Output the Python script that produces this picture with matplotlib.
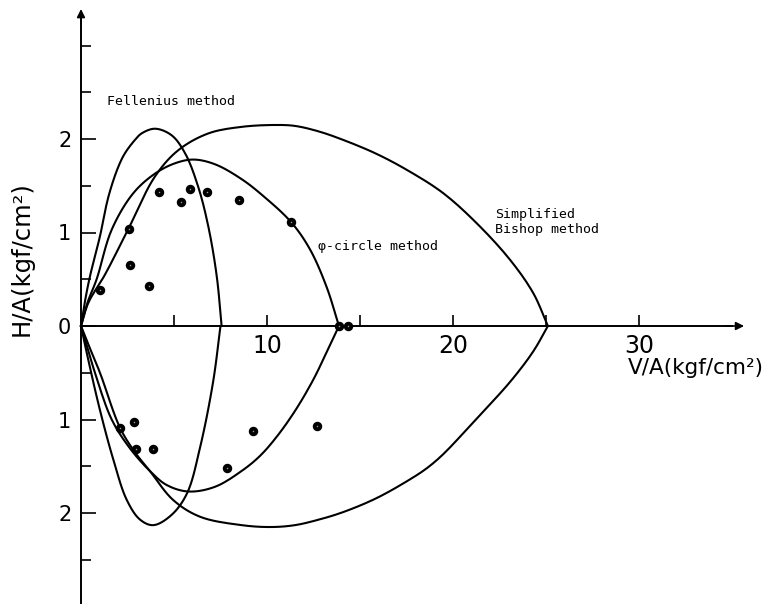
import matplotlib
matplotlib.use("Agg")
import matplotlib.pyplot as plt
import numpy as np

# curves, each branch runs from the origin to the V/A axis
fell_up_x = [0, 0.2, 0.48, 1.02, 1.47, 2.0, 2.37, 2.9, 3.26, 3.98, 4.87, 5.59, 6.3, 6.85, 7.3, 7.56]
fell_up_y = [0, 0.25, 0.53, 0.96, 1.38, 1.70, 1.85, 1.99, 2.06, 2.11, 2.04, 1.85, 1.49, 1.06, 0.53, 0]
fell_lo_x = [0, 0.39, 1.02, 1.74, 2.46, 3.17, 3.89, 4.87, 5.7, 6.4, 7.1, 7.5]
fell_lo_y = [0, -0.36, -0.9, -1.43, -1.86, -2.07, -2.13, -2.02, -1.79, -1.3, -0.6, 0]

phi_up_x = [0, 0.35, 0.84, 1.65, 2.81, 3.98, 5.05, 6.04, 7.2, 8.64, 9.8, 11.3, 12.31, 13.2, 13.87]
phi_up_y = [0, 0.25, 0.5, 1.03, 1.42, 1.63, 1.74, 1.78, 1.73, 1.57, 1.39, 1.11, 0.82, 0.42, 0]
phi_lo_x = [0, 0.3, 0.75, 1.65, 2.6, 3.7, 4.6, 5.77, 7.2, 8.64, 9.62, 10.5, 11.5, 12.5, 13.3, 13.87]
phi_lo_y = [0, -0.2, -0.5, -1.0, -1.3, -1.55, -1.7, -1.77, -1.72, -1.55, -1.39, -1.19, -0.91,
            -0.57, -0.24, 0]

bish_up_x = [0, 0.4, 1.29, 2.55, 3.98, 5.23, 6.85, 8.64, 10.43, 11.5, 12.8, 14.1, 15.9, 17.69,
             19.48, 21.27, 23.06, 24.32, 25.1]
bish_up_y = [0, 0.25, 0.55, 1.04, 1.6, 1.88, 2.06, 2.13, 2.15, 2.14, 2.08, 1.99, 1.84, 1.65,
             1.42, 1.1, 0.71, 0.35, 0]
bish_lo_x = [0, 0.4, 1.02, 2.1, 2.9, 3.7, 4.95, 6.4, 8.64, 10.2, 11.5, 12.8, 14.1, 15.9, 17.69,
             18.6, 19.48, 21.27, 23.06, 24.32, 25.1]
bish_lo_y = [0, -0.2, -0.5, -1.09, -1.35, -1.55, -1.86, -2.04, -2.13, -2.15, -2.13, -2.07, -1.99,
             -1.84, -1.64, -1.52, -1.37, -0.99, -0.6, -0.27, 0]

# measured points
pts_x = [1.02, 2.58, 2.63, 3.66, 4.19, 5.38, 5.86, 6.76, 8.49, 11.3, 13.87, 14.37,
         2.1, 2.85, 2.96, 3.89, 7.83, 9.27, 12.71]
pts_y = [0.39, 1.04, 0.65, 0.43, 1.43, 1.33, 1.47, 1.43, 1.35, 1.11, 0, 0,
         -1.09, -1.03, -1.32, -1.32, -1.52, -1.12, -1.07]

ytick_pos = [-2, -1, 0, 1, 2]
ytick_lab = ["2", "1", "0", "1", "2"]


def smooth(xs, ys, n=10):
    # centripetal catmull-rom through the read points (pixel-like scaling)
    P = np.column_stack([np.array(xs) * 18.6, np.array(ys) * 93.5])
    P = np.vstack([2 * P[0] - P[1], P, 2 * P[-1] - P[-2]])
    out = [P[1]]
    for i in range(1, len(P) - 2):
        p0, p1, p2, p3 = P[i - 1], P[i], P[i + 1], P[i + 2]
        t0 = 0.0
        t1 = t0 + np.linalg.norm(p1 - p0) ** 0.5
        t2 = t1 + np.linalg.norm(p2 - p1) ** 0.5
        t3 = t2 + np.linalg.norm(p3 - p2) ** 0.5
        t = np.linspace(t1, t2, n)[1:, None]
        a1 = (t1 - t) / (t1 - t0) * p0 + (t - t0) / (t1 - t0) * p1
        a2 = (t2 - t) / (t2 - t1) * p1 + (t - t1) / (t2 - t1) * p2
        a3 = (t3 - t) / (t3 - t2) * p2 + (t - t2) / (t3 - t2) * p3
        b1 = (t2 - t) / (t2 - t0) * a1 + (t - t0) / (t2 - t0) * a2
        b2 = (t3 - t) / (t3 - t1) * a2 + (t - t1) / (t3 - t1) * a3
        c = (t2 - t) / (t2 - t1) * b1 + (t - t1) / (t2 - t1) * b2
        out.extend(c)
    out = np.array(out)
    return out[:, 0] / 18.6, out[:, 1] / 93.5


fig = plt.figure(figsize=(7.66, 6.04), dpi=100)
ax = fig.add_axes([0, 0, 1, 1])
ax.set_xlim(-81 / 18.6, 685 / 18.6)
ax.set_ylim(-278 / 93.5, 326 / 93.5)

branches = [(fell_up_x, fell_up_y), (fell_lo_x, fell_lo_y),
            (phi_up_x, phi_up_y), (phi_lo_x, phi_lo_y),
            (bish_up_x, bish_up_y), (bish_lo_x, bish_lo_y)]
for xs, ys in branches:
    sx, sy = smooth(xs, ys)
    ax.plot(sx, sy, color="black", lw=1.5, solid_joinstyle="round")

ax.plot(pts_x, pts_y, "o", ms=4.0, mfc="#9a9a9a", mec="black", mew=2.8, zorder=5)

# axes through the origin
ax.spines["top"].set_visible(False)
ax.spines["right"].set_visible(False)
ax.spines["left"].set_position(("data", 0))
ax.spines["bottom"].set_position(("data", 0))
ax.spines["left"].set_bounds(-2.98, 3.3)
ax.spines["bottom"].set_bounds(0, 35.0)
ax.spines["left"].set_linewidth(1.4)
ax.spines["bottom"].set_linewidth(1.4)
ax.annotate("", xy=(35.8, 0), xytext=(34.5, 0),
            arrowprops=dict(arrowstyle="-|>", color="black", lw=1.2, mutation_scale=12))
ax.annotate("", xy=(0, 3.42), xytext=(0, 3.2),
            arrowprops=dict(arrowstyle="-|>", color="black", lw=1.2, mutation_scale=12))

ax.set_xticks([10, 20, 30])
ax.set_xticks([5, 15, 25], minor=True)
ax.tick_params(axis="x", which="both", direction="in", length=8, width=1.2,
               labelsize=17, pad=6)
ax.set_yticks(ytick_pos)
ax.set_yticklabels(ytick_lab)
ax.set_yticks([-2.5, -1.5, -0.5, 0.5, 1.5, 2.5, 3.0], minor=True)
ax.tick_params(axis="y", which="major", direction="in", length=11, width=1.2,
               labelsize=15, pad=7)
ax.tick_params(axis="y", which="minor", direction="in", length=7, width=1.2)

fig.text(22 / 766, 1 - 259 / 604, "H/A(kgf/cm²)", rotation=90, fontsize=17.5,
         ha="center", va="center")
fig.text(696 / 766, 1 - 368 / 604, "V/A(kgf/cm²)", fontsize=15.5,
         ha="center", va="center")

mono = "DejaVu Sans Mono"
ax.text(1.4, 2.4, "Fellenius method", family=mono, fontsize=9.5, va="center")
ax.text(12.74, 0.845, "φ-circle method", family=mono, fontsize=9.5, va="center")
ax.text(22.26, 1.11, "Simplified\nBishop method", family=mono, fontsize=9.5,
        va="center", linespacing=1.15)

fig.savefig("out.png", dpi=100)
